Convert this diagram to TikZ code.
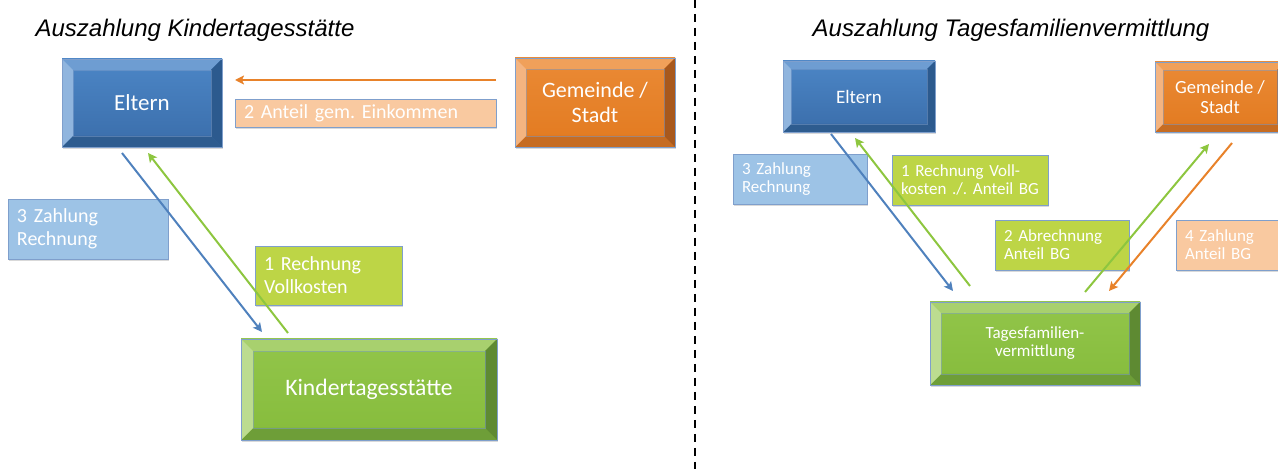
\documentclass[tikz,border=0pt]{standalone}
\usepackage{fontspec}
\setmainfont{Liberation Sans}
\newfontfamily\boxfont{Carlito}
\usepackage{tikz}
\usetikzlibrary{shadows,arrows.meta}

\definecolor{edge}{HTML}{7F9FCC}
\definecolor{bluehi}{HTML}{4C86C6}
\definecolor{bluelo}{HTML}{3A6DAA}
\definecolor{bluetop}{HTML}{6E9DD2}
\definecolor{blueleft}{HTML}{90B5DE}
\definecolor{blueright}{HTML}{2C5A8E}
\definecolor{bluebottom}{HTML}{2E5C8F}
\definecolor{orangehi}{HTML}{EA8A35}
\definecolor{orangelo}{HTML}{E27A20}
\definecolor{orangetop}{HTML}{F0A05A}
\definecolor{orangeleft}{HTML}{F4B480}
\definecolor{orangeright}{HTML}{A8581C}
\definecolor{orangebottom}{HTML}{C66C22}
\definecolor{greenhi}{HTML}{92C54A}
\definecolor{greenlo}{HTML}{86BC3C}
\definecolor{greentop}{HTML}{A8D06E}
\definecolor{greenleft}{HTML}{BCDC90}
\definecolor{greenright}{HTML}{5E8A32}
\definecolor{greenbottom}{HTML}{6E9E38}
\definecolor{notblue}{HTML}{9DC3E6}
\definecolor{notlime}{HTML}{BDD546}
\definecolor{notpeach}{HTML}{F9C9A0}
\definecolor{arrblue}{HTML}{4F81BD}
\definecolor{arrgreen}{HTML}{8DC63F}
\definecolor{arrorange}{HTML}{E8822A}

\begin{document}
\frenchspacing
\begin{tikzpicture}[x=0.5pt,y=-0.5pt,
    bevelbox/.style 2 args={rectangle,draw=edge,line width=0.4pt,
      top color=#1hi,bottom color=#1lo,text=white,align=center,
      drop shadow={shadow xshift=0.6pt,shadow yshift=-0.8pt,opacity=0.3},
      path picture={
        \fill[#1top] (path picture bounding box.north west) -- (path picture bounding box.north east)
          -- ([xshift=-#2,yshift=-#2]path picture bounding box.north east)
          -- ([xshift=#2,yshift=-#2]path picture bounding box.north west) -- cycle;
        \fill[#1bottom] (path picture bounding box.south west) -- (path picture bounding box.south east)
          -- ([xshift=-#2,yshift=#2]path picture bounding box.south east)
          -- ([xshift=#2,yshift=#2]path picture bounding box.south west) -- cycle;
        \fill[#1left] (path picture bounding box.north west) -- (path picture bounding box.south west)
          -- ([xshift=#2,yshift=#2]path picture bounding box.south west)
          -- ([xshift=#2,yshift=-#2]path picture bounding box.north west) -- cycle;
        \fill[#1right] (path picture bounding box.north east) -- (path picture bounding box.south east)
          -- ([xshift=-#2,yshift=#2]path picture bounding box.south east)
          -- ([xshift=-#2,yshift=-#2]path picture bounding box.north east) -- cycle;
        \draw[edge,line width=0.3pt,opacity=0.5]
          ([xshift=#2,yshift=-#2]path picture bounding box.north west) rectangle
          ([xshift=-#2,yshift=#2]path picture bounding box.south east);
      }},
    notebox/.style 2 args={rectangle,draw=edge,line width=0.4pt,fill=#1,
      text=white,align=left,text width=#2,inner xsep=4.5pt,inner ysep=0pt,
      drop shadow={shadow xshift=0.6pt,shadow yshift=-0.8pt,opacity=0.3}},
    heading/.style={font=\itshape\fontsize{12}{14}\selectfont},
    bigtext/.style={font=\boxfont\fontsize{10}{11.5}\selectfont},
    smalltext/.style={font=\boxfont\fontsize{8.5}{9}\selectfont},
    flow/.style={line width=1pt,-{Stealth[length=4.5pt,width=4.5pt,inset=1pt]}}]

  \useasboundingbox (0,0) rectangle (1278,469);

  % left part
  \node (titleA) at (195,30) [heading] {Auszahlung Kindertagesstätte};
  \node (eltA) at (142,103) [bevelbox={blue}{5.5pt},minimum width=80pt,minimum height=44pt,
    font=\boxfont\fontsize{11.5}{13}\selectfont] {Eltern};
  \node (gemA) at (595,102.5) [bevelbox={orange}{5.5pt},minimum width=80pt,minimum height=44.5pt,
    font=\boxfont\fontsize{11}{12.5}\selectfont] {Gemeinde /\\Stadt};
  \node (kitaA) at (369,389.5) [bevelbox={green}{6pt},minimum width=128pt,minimum height=50.5pt,
    font=\boxfont\fontsize{11.8}{13}\selectfont] {Kindertagesstätte};
  \node (anteilA) at (365.5,113) [notebox={notpeach}{121.5pt},bigtext,minimum height=14pt]
    {2 Anteil gem. Einkommen};
  \node (zahlA) at (88,229) [notebox={notblue}{71pt},bigtext,minimum height=30pt]
    {3 Zahlung\\Rechnung};
  \node (rechA) at (328.5,275.5) [notebox={notlime}{64.5pt},bigtext,minimum height=29.5pt]
    {1 Rechnung\\Vollkosten};

  \coordinate (oA1) at (496,80);
  \coordinate (oA2) at (235,80);
  \coordinate (bA1) at (122,153);
  \coordinate (bA2) at (262,332);
  \coordinate (gA1) at (288,333);
  \coordinate (gA2) at (148,153);
  \draw[flow,arrorange] (oA1) -- (oA2);
  \draw[flow,arrblue] (bA1) -- (bA2);
  \draw[flow,arrgreen] (gA1) -- (gA2);

  % divider
  \coordinate (divtop) at (695,0);
  \coordinate (divbot) at (695,469);
  \draw[line width=0.6pt,dash pattern=on 4pt off 3pt] (divtop) -- (divbot);

  % right part
  \node (titleB) at (1011,30) [heading] {Auszahlung Tagesfamilienvermittlung};
  \node (eltB) at (859,96.5) [bevelbox={blue}{4pt},minimum width=76pt,minimum height=35.5pt,
    font=\boxfont\fontsize{9.5}{10}\selectfont] {Eltern};
  \node (gemB) at (1220,97) [bevelbox={orange}{4pt},minimum width=65pt,minimum height=35pt,
    font=\boxfont\fontsize{9.3}{10}\selectfont] {Gemeinde /\\Stadt};
  \node (tfvB) at (1035,343.5) [bevelbox={green}{5.5pt},smalltext,minimum width=105pt,minimum height=41.5pt]
    {Tagesfamilien-\\vermittlung};
  \node (zahlB) at (800,179) [notebox={notblue}{58pt},smalltext,minimum height=25pt]
    {3 Zahlung\\Rechnung};
  \node (rechB) at (970,180) [notebox={notlime}{69pt},smalltext,minimum height=25pt]
    {1 Rechnung Voll-\\kosten ./. Anteil BG};
  \node (abrB) at (1062,245) [notebox={notlime}{58pt},smalltext,minimum height=25pt]
    {2 Abrechnung\\Anteil BG};
  \node (zahl4B) at (1243,245) [notebox={notpeach}{58pt},smalltext,minimum height=25pt]
    {4 Zahlung\\Anteil BG};

  \coordinate (bB1) at (831,134);
  \coordinate (bB2) at (953,291);
  \coordinate (gB1) at (970,286);
  \coordinate (gB2) at (855,138);
  \coordinate (gB3) at (1085,292);
  \coordinate (gB4) at (1209,144);
  \coordinate (oB1) at (1232,143);
  \coordinate (oB2) at (1109,291);
  \draw[flow,arrblue] (bB1) -- (bB2);
  \draw[flow,arrgreen] (gB1) -- (gB2);
  \draw[flow,arrgreen] (gB3) -- (gB4);
  \draw[flow,arrorange] (oB1) -- (oB2);
\end{tikzpicture}
\end{document}
